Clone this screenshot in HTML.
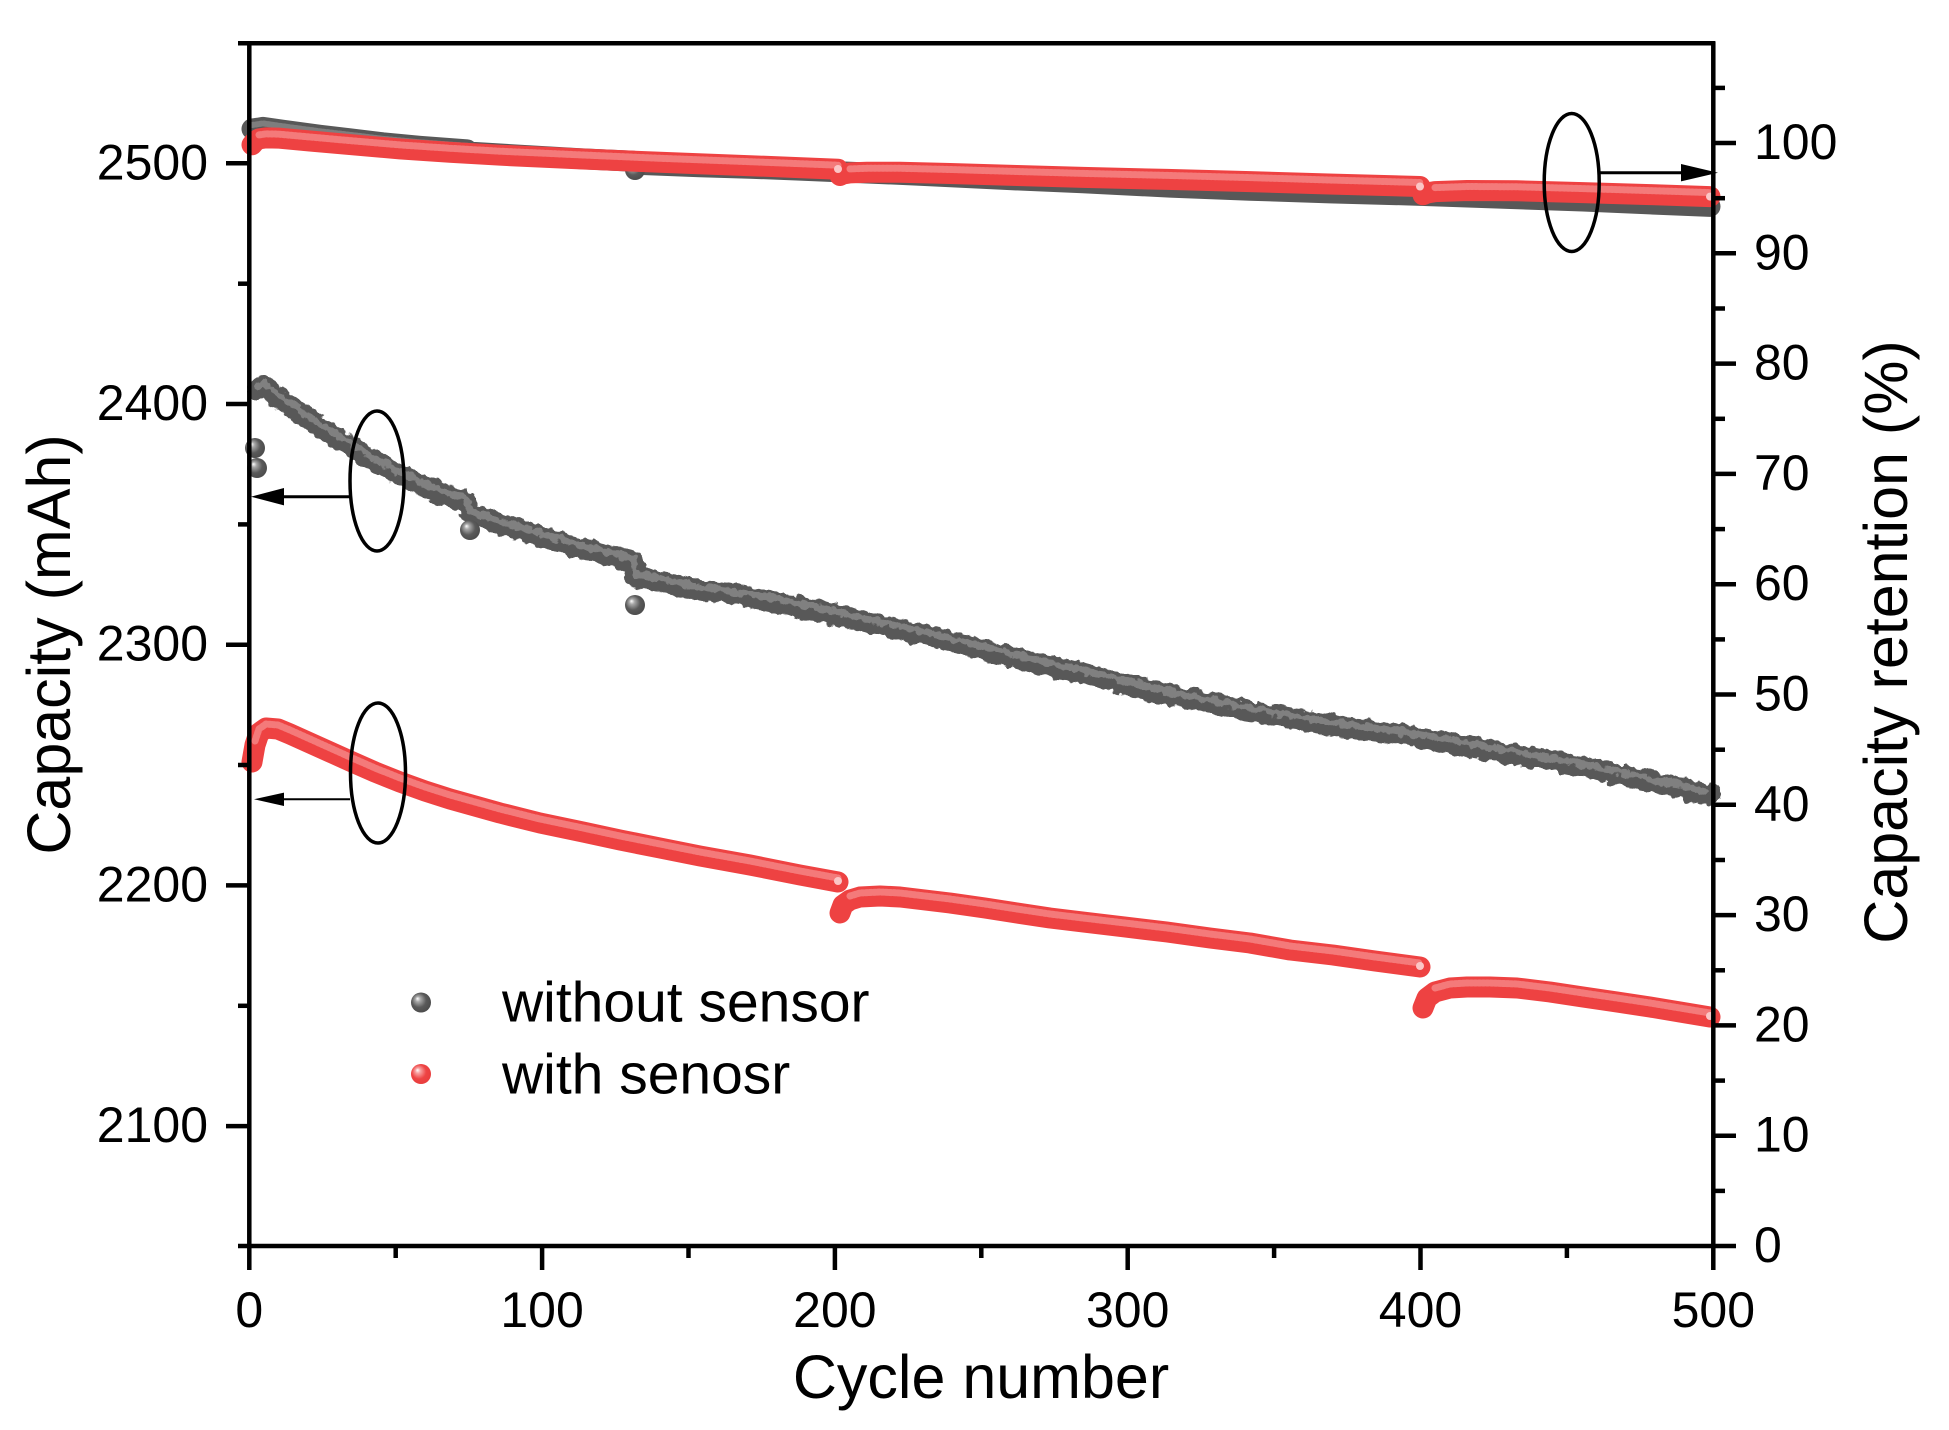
<!DOCTYPE html>
<html>
<head>
<meta charset="utf-8">
<style>
  html,body{margin:0;padding:0;background:#fff;}
  svg{display:block;}
  text{font-family:"Liberation Sans", Arial, sans-serif; fill:#000;}
</style>
</head>
<body>
<svg width="1949" height="1430" viewBox="0 0 1949 1430" xmlns="http://www.w3.org/2000/svg">
  <defs>
    <radialGradient id="gs" cx="0.45" cy="0.45" r="0.6" fx="0.32" fy="0.3">
      <stop offset="0" stop-color="#ffffff"/>
      <stop offset="0.22" stop-color="#a8a8a8"/>
      <stop offset="0.6" stop-color="#5a5a5a"/>
      <stop offset="1" stop-color="#4a4a4a"/>
    </radialGradient>
    <radialGradient id="rs" cx="0.45" cy="0.45" r="0.6" fx="0.32" fy="0.3">
      <stop offset="0" stop-color="#ffffff"/>
      <stop offset="0.22" stop-color="#f8a0a0"/>
      <stop offset="0.6" stop-color="#ee4444"/>
      <stop offset="1" stop-color="#e83c3c"/>
    </radialGradient>
    <filter id="rough" filterUnits="userSpaceOnUse" x="200" y="300" width="1560" height="560">
      <feTurbulence type="fractalNoise" baseFrequency="0.12" numOctaves="2" seed="3" result="n"/>
      <feDisplacementMap in="SourceGraphic" in2="n" scale="9" xChannelSelector="R" yChannelSelector="G"/>
    </filter>
  </defs>
  <rect x="0" y="0" width="1949" height="1430" fill="#fff"/>

  <g fill="none" stroke-linecap="round" stroke-linejoin="round" filter="url(#rough)">
    <path d="M258,390 L263,386 L270,390 L283,401 L300,413 L320,427 L335,437 L350,445 L365,456 L383,466 L400,475 L420,484 L440,493 L455,498 L467,502 L469,514 L485,518 L500,524 L520,530 L540,536 L560,542 L580,548 L600,553 L620,558 L633,561 L636,577 L660,581 L680,586 L700,590 L725,593 L750,597 L775,602 L800,607 L825,612 L850,618 L880,625 L917,633 L950,641 L1000,654 L1040,664 L1083,673 L1125,684 L1170,695 L1210,703 L1250,711 L1290,718 L1330,725 L1375,731 L1417,737 L1460,745 L1500,752 L1540,759 L1583,767 L1620,775 L1650,782 L1680,788 L1710,795" stroke="#585858" stroke-width="21"/>
    <path d="M258,390 L263,386 L270,390 L283,401 L300,413 L320,427 L335,437 L350,445 L365,456 L383,466 L400,475 L420,484 L440,493 L455,498 L467,502 L469,514 L485,518 L500,524 L520,530 L540,536 L560,542 L580,548 L600,553 L620,558 L633,561 L636,577 L660,581 L680,586 L700,590 L725,593 L750,597 L775,602 L800,607 L825,612 L850,618 L880,625 L917,633 L950,641 L1000,654 L1040,664 L1083,673 L1125,684 L1170,695 L1210,703 L1250,711 L1290,718 L1330,725 L1375,731 L1417,737 L1460,745 L1500,752 L1540,759 L1583,767 L1620,775 L1650,782 L1680,788 L1710,795" stroke="#808080" stroke-width="7" stroke-dasharray="4 5" transform="translate(0,-3)"/>
  </g>
  <circle cx="255" cy="448" r="10" fill="url(#gs)"/>
  <circle cx="257" cy="468" r="10" fill="url(#gs)"/>
  <circle cx="470" cy="530" r="10" fill="url(#gs)"/>
  <circle cx="635" cy="605" r="10" fill="url(#gs)"/>

  <g fill="none" stroke-linecap="round" stroke-linejoin="round">
    <path d="M252,762 L255,745 L259,733 L266,728 L278,729 L290,734 L310,743 L330,752 L350,761 L375,772 L400,782 L425,791 L450,799 L475,806 L500,813 L540,823 L583,832 L620,840 L660,848 L700,856 L750,865 L800,875 L838,882" stroke="#ee4242" stroke-width="21"/>
    <path d="M840,913 L843,905 L850,900 L860,897 L880,896 L900,897 L925,900 L950,903 L985,908 L1017,913 L1050,918 L1083,922 L1125,927 L1167,932 L1210,938 L1250,943 L1290,950 L1333,955 L1375,961 L1420,967" stroke="#ee4242" stroke-width="21"/>
    <path d="M1423,1008 L1427,998 L1435,992 L1450,988 L1467,987 L1490,987 L1517,988 L1550,992 L1583,997 L1617,1002 L1650,1007 L1680,1012 L1710,1017" stroke="#ee4242" stroke-width="21"/>
    <g stroke="#f47a7a" stroke-width="7" stroke-dasharray="2 2" transform="translate(0,-4)">
      <path d="M255,745 L259,733 L266,728 L278,729 L290,734 L310,743 L330,752 L350,761 L375,772 L400,782 L425,791 L450,799 L475,806 L500,813 L540,823 L583,832 L620,840 L660,848 L700,856 L750,865 L800,875 L838,882"/>
      <path d="M850,900 L860,897 L880,896 L900,897 L925,900 L950,903 L985,908 L1017,913 L1050,918 L1083,922 L1125,927 L1167,932 L1210,938 L1250,943 L1290,950 L1333,955 L1375,961 L1420,967"/>
      <path d="M1435,992 L1450,988 L1467,987 L1490,987 L1517,988 L1550,992 L1583,997 L1617,1002 L1650,1007 L1680,1012 L1710,1017"/>
    </g>
  </g>

  <g fill="none" stroke-linecap="round" stroke-linejoin="round">
    <path d="M252,129 L258,128.2 L263,127.4 L283,130.3 L320,135.3 L350,138.8 L383,142.8 L420,146.3 L467,149.8 L469,152.1 L520,155.2 L580,158.7 L633,161.2 L636,164.3 L700,166.8 L750,168.2 L800,170.1 L850,172.2 L917,175.1 L1000,179.2 L1083,182.8 L1170,187.1 L1250,190.2 L1330,192.9 L1417,195.2 L1500,198.1 L1583,201 L1650,203.9 L1710,206.4" stroke="#585858" stroke-width="21"/>
    <path d="M252,129 L258,128.2 L263,127.4 L283,130.3 L320,135.3 L350,138.8 L383,142.8 L420,146.3 L467,149.8 L469,152.1 L520,155.2 L580,158.7 L633,161.2 L636,164.3 L700,166.8 L750,168.2 L800,170.1 L850,172.2 L917,175.1 L1000,179.2 L1083,182.8 L1170,187.1 L1250,190.2 L1330,192.9 L1417,195.2 L1500,198.1 L1583,201 L1650,203.9 L1710,206.4" stroke="#7e7e7e" stroke-width="6" stroke-dasharray="2 2" transform="translate(0,-4)"/>
  </g>
  <circle cx="635" cy="170" r="10" fill="url(#gs)"/>

  <g fill="none" stroke-linecap="round" stroke-linejoin="round">
    <path d="M252,144.8 L255,141.3 L259,138.9 L266,137.9 L278,138.1 L310,141 L350,144.6 L400,148.9 L450,152.3 L500,155.2 L583,159 L660,162.3 L750,165.7 L838,169.2" stroke="#ee4242" stroke-width="21"/>
    <path d="M840,175.5 L843,174 L850,172.9 L867,172.3 L900,172.3 L950,173.5 L1017,175.5 L1083,177.4 L1167,179.4 L1250,181.6 L1333,184.1 L1420,186.5" stroke="#ee4242" stroke-width="21"/>
    <path d="M1423,194.8 L1427,193 L1435,191.6 L1467,190.5 L1517,190.8 L1583,192.6 L1650,194.6 L1710,196.6" stroke="#ee4242" stroke-width="21"/>
    <g stroke="#f47a7a" stroke-width="7" stroke-dasharray="2 2" transform="translate(0,-4)">
      <path d="M259,138.9 L266,137.9 L278,138.1 L310,141 L350,144.6 L400,148.9 L450,152.3 L500,155.2 L583,159 L660,162.3 L750,165.7 L838,169.2"/>
      <path d="M850,172.9 L867,172.3 L900,172.3 L950,173.5 L1017,175.5 L1083,177.4 L1167,179.4 L1250,181.6 L1333,184.1 L1420,186.5"/>
      <path d="M1435,191.6 L1467,190.5 L1517,190.8 L1583,192.6 L1650,194.6 L1710,196.6"/>
    </g>
  </g>
  <circle cx="838" cy="169" r="4" fill="#fbc6c6"/>
  <circle cx="1420" cy="186.5" r="4" fill="#fbc6c6"/>
  <circle cx="1710" cy="196.6" r="4" fill="#fbc6c6"/>
  <circle cx="838" cy="881" r="4" fill="#fbc6c6"/>
  <circle cx="1420" cy="966" r="4" fill="#fbc6c6"/>
  <circle cx="1710" cy="1016" r="4" fill="#fbc6c6"/>

  <g stroke="#000" stroke-width="4.5" fill="none">
    <line x1="238" y1="43.3" x2="1715" y2="43.3"/>
    <line x1="238" y1="1246" x2="1736" y2="1246"/>
    <line x1="249.3" y1="41.3" x2="249.3" y2="1270"/>
    <line x1="1713.3" y1="41.3" x2="1713.3" y2="1270"/>
    <line x1="226" y1="163.3" x2="249" y2="163.3"/>
    <line x1="226" y1="404" x2="249" y2="404"/>
    <line x1="226" y1="644.7" x2="249" y2="644.7"/>
    <line x1="226" y1="885.4" x2="249" y2="885.4"/>
    <line x1="226" y1="1126.1" x2="249" y2="1126.1"/>
    <line x1="238" y1="283.7" x2="249" y2="283.7"/>
    <line x1="238" y1="524.4" x2="249" y2="524.4"/>
    <line x1="238" y1="765" x2="249" y2="765"/>
    <line x1="238" y1="1005.8" x2="249" y2="1005.8"/>
    <line x1="542.1" y1="1246" x2="542.1" y2="1270"/>
    <line x1="834.9" y1="1246" x2="834.9" y2="1270"/>
    <line x1="1127.7" y1="1246" x2="1127.7" y2="1270"/>
    <line x1="1420.5" y1="1246" x2="1420.5" y2="1270"/>
    <line x1="395.7" y1="1246" x2="395.7" y2="1258"/>
    <line x1="688.5" y1="1246" x2="688.5" y2="1258"/>
    <line x1="981.3" y1="1246" x2="981.3" y2="1258"/>
    <line x1="1274.1" y1="1246" x2="1274.1" y2="1258"/>
    <line x1="1566.9" y1="1246" x2="1566.9" y2="1258"/>
    <line x1="1713" y1="1135.7" x2="1736" y2="1135.7"/>
    <line x1="1713" y1="1025.4" x2="1736" y2="1025.4"/>
    <line x1="1713" y1="915.1" x2="1736" y2="915.1"/>
    <line x1="1713" y1="804.8" x2="1736" y2="804.8"/>
    <line x1="1713" y1="694.5" x2="1736" y2="694.5"/>
    <line x1="1713" y1="584.2" x2="1736" y2="584.2"/>
    <line x1="1713" y1="473.9" x2="1736" y2="473.9"/>
    <line x1="1713" y1="363.6" x2="1736" y2="363.6"/>
    <line x1="1713" y1="253.3" x2="1736" y2="253.3"/>
    <line x1="1713" y1="143" x2="1736" y2="143"/>
    <line x1="1713" y1="1190.9" x2="1725" y2="1190.9"/>
    <line x1="1713" y1="1080.6" x2="1725" y2="1080.6"/>
    <line x1="1713" y1="970.3" x2="1725" y2="970.3"/>
    <line x1="1713" y1="860" x2="1725" y2="860"/>
    <line x1="1713" y1="749.7" x2="1725" y2="749.7"/>
    <line x1="1713" y1="639.4" x2="1725" y2="639.4"/>
    <line x1="1713" y1="529.1" x2="1725" y2="529.1"/>
    <line x1="1713" y1="418.8" x2="1725" y2="418.8"/>
    <line x1="1713" y1="308.5" x2="1725" y2="308.5"/>
    <line x1="1713" y1="198.2" x2="1725" y2="198.2"/>
    <line x1="1713" y1="87.9" x2="1725" y2="87.9"/>
  </g>

  <g font-size="50" text-anchor="end">
    <text x="208" y="179.3">2500</text>
    <text x="208" y="420">2400</text>
    <text x="208" y="660.7">2300</text>
    <text x="208" y="901.4">2200</text>
    <text x="208" y="1142">2100</text>
  </g>
  <g font-size="50" text-anchor="middle">
    <text x="249.3" y="1327">0</text>
    <text x="542.1" y="1327">100</text>
    <text x="834.9" y="1327">200</text>
    <text x="1127.7" y="1327">300</text>
    <text x="1420.5" y="1327">400</text>
    <text x="1713.3" y="1327">500</text>
  </g>
  <g font-size="50" text-anchor="start">
    <text x="1754" y="1262">0</text>
    <text x="1754" y="1151.7">10</text>
    <text x="1754" y="1041.4">20</text>
    <text x="1754" y="931.1">30</text>
    <text x="1754" y="820.8">40</text>
    <text x="1754" y="710.5">50</text>
    <text x="1754" y="600.2">60</text>
    <text x="1754" y="489.9">70</text>
    <text x="1754" y="379.6">80</text>
    <text x="1754" y="269.3">90</text>
    <text x="1754" y="159">100</text>
  </g>

  <text x="981" y="1398" font-size="61" text-anchor="middle">Cycle number</text>
  <text transform="translate(70,644.5) rotate(-90)" font-size="61" text-anchor="middle">Capacity (mAh)</text>
  <text transform="translate(1907,642) rotate(-90)" font-size="61" text-anchor="middle">Capacity retention (%)</text>

  <g fill="none" stroke="#000" stroke-width="3.5">
    <ellipse cx="1571.7" cy="182.5" rx="27.5" ry="69"/>
    <ellipse cx="377" cy="481" rx="27" ry="70"/>
    <ellipse cx="378" cy="773" rx="27.5" ry="70"/>
  </g>
  <g stroke="#000" fill="none">
    <line x1="1598" y1="172.7" x2="1690" y2="172.7" stroke-width="3"/>
    <line x1="350" y1="496.7" x2="275" y2="496.7" stroke-width="3"/>
    <line x1="350" y1="799.3" x2="275" y2="799.3" stroke-width="2"/>
  </g>
  <g fill="#000">
    <polygon points="1681,164 1718,172.7 1681,181.4"/>
    <polygon points="284,488 251,496.7 284,505.4"/>
    <polygon points="284,792.6 254,799.3 284,806"/>
  </g>

  <circle cx="421" cy="1002.5" r="10" fill="url(#gs)"/>
  <circle cx="421" cy="1074" r="10" fill="url(#rs)"/>
  <text x="502" y="1021.7" font-size="57">without sensor</text>
  <text x="502" y="1093.3" font-size="57">with senosr</text>
</svg>
</body>
</html>
